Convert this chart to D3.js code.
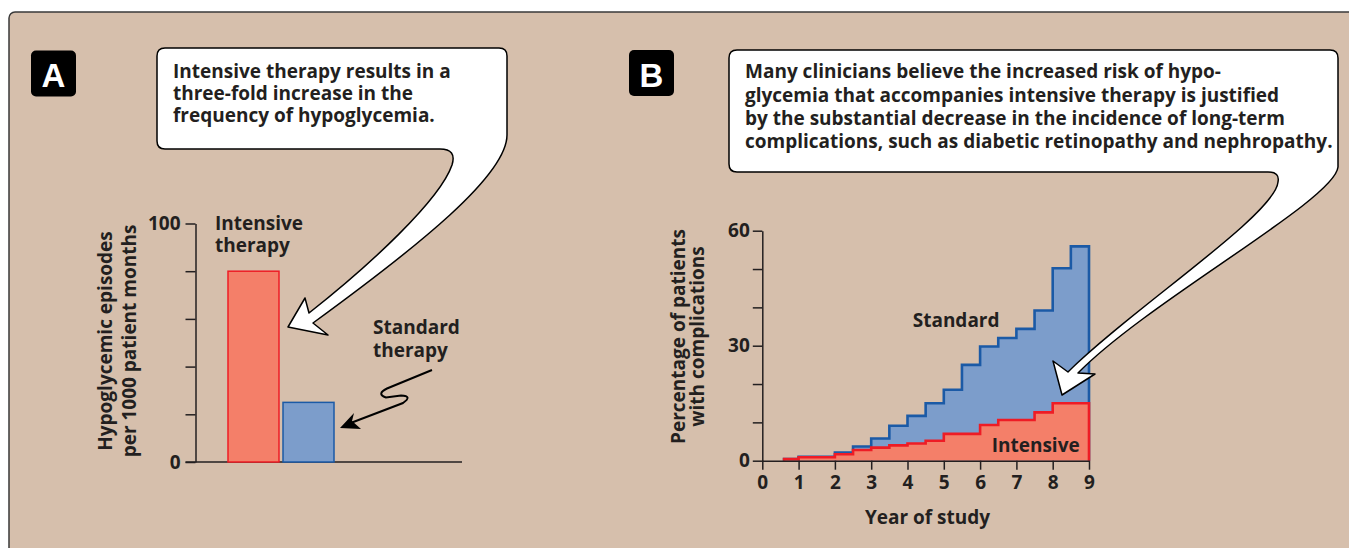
<!DOCTYPE html>
<html><head><meta charset="utf-8">
<script src="https://cdn.jsdelivr.net/npm/d3@7"></script>
<style>
body{margin:0;background:#fff}
svg{display:block}
text{font-family:"Open Sans",Lato,sans-serif;font-weight:700;fill:#231f20}
</style>
</head><body>
<svg id="c" width="1349" height="548"></svg>
<script>
// ---- Panel A data ----
const barCategories = ["Intensive therapy", "Standard therapy"];
const barValues = [80, 25];
const barTicks = [0, 20, 40, 60, 80, 100];
const barTickLabels = ["0", "", "", "", "", "100"];
const barTitleLines = ["Hypoglycemic episodes", "per 1000 patient months"];
const calloutA = ["Intensive therapy results in a", "three-fold increase in the", "frequency of hypoglycemia."];

// ---- Panel B data ----
const years = [0.6, 1, 1.5, 2, 2.5, 3, 3.5, 4, 4.5, 5, 5.5, 6, 6.5, 7, 7.5, 8, 8.5];
const standardValues = [0.4, 1.0, 1.0, 2.1, 3.7, 5.8, 9.1, 11.7, 15.0, 18.5, 25.0, 29.8, 32.0, 34.4, 39.2, 50.2, 55.9];
const intensiveValues = [0.4, 0.9, 0.9, 1.7, 2.8, 3.4, 4.0, 4.5, 5.2, 7.0, 7.0, 9.3, 10.6, 10.6, 12.6, 15.0, 15.0];
const yearEnd = 9;
const yearTicks = [0, 1, 2, 3, 4, 5, 6, 7, 8, 9];
const pctTicks = [0, 10, 20, 30, 40, 50, 60];
const pctTickLabels = ["0", "", "", "30", "", "", "60"];
const pctTitleLines = ["Percentage of patients", "with complications"];
const calloutB = ["Many clinicians believe the increased risk of hypo-",
  "glycemia that accompanies intensive therapy is justified",
  "by the substantial decrease in the incidence of long-term",
  "complications, such as diabetic retinopathy and nephropathy."];

const INK = "#231f20";
const RED_FILL = "#f47f69", RED_LINE = "#ee1c25";
const BLUE_FILL = "#7c9dcb", BLUE_LINE = "#1b5aa6";
const FS = "19px";

const svg = d3.select("#c");

// background panel
svg.append("rect").attr("x", 9).attr("y", 12).attr("width", 1400).attr("height", 600)
  .attr("rx", 6).attr("fill", "#d6bfac").attr("stroke", "#3a3a3a").attr("stroke-width", 1.5);

// badges
function badge(x, y, letter) {
  svg.append("rect").attr("x", x).attr("y", y).attr("width", 45).attr("height", 46).attr("rx", 5).attr("fill", "#000");
  svg.append("text").attr("x", x + 22.5).attr("y", y + 36.5).attr("text-anchor", "middle")
    .style("font-family", "'Liberation Sans', Arial, sans-serif").style("font-size", "33px").style("fill", "#fff").text(letter);
}
badge(31, 50.5, "A");
badge(629, 50, "B");

// ================= Panel A =================
const yA = d3.scaleLinear().domain([0, 100]).range([462, 223.5]);
const xA = d3.scaleBand().domain(barCategories).range([228, 334]).paddingInner(0.073).paddingOuter(0);

const axA = svg.append("g").attr("transform", "translate(195.5,0)")
  .call(d3.axisLeft(yA).tickValues(barTicks).tickSize(10).tickSizeOuter(0).tickPadding(5)
    .tickFormat((d, i) => barTickLabels[i]));
axA.select(".domain").attr("stroke", INK).attr("stroke-width", 1.5);
axA.selectAll(".tick line").attr("stroke", INK).attr("stroke-width", 1.5);
axA.selectAll(".tick text").style("font-size", FS).attr("fill", INK).attr("font-family", null);

svg.append("line").attr("x1", 185.5).attr("x2", 462).attr("y1", yA(0)).attr("y2", yA(0))
  .attr("stroke", INK).attr("stroke-width", 1.5);

svg.selectAll(".barA").data(barValues).enter().append("rect")
  .attr("x", (d, i) => xA(barCategories[i])).attr("width", xA.bandwidth())
  .attr("y", d => yA(d)).attr("height", d => yA(0) - yA(d))
  .attr("fill", (d, i) => i === 0 ? RED_FILL : BLUE_FILL)
  .attr("stroke", (d, i) => i === 0 ? RED_LINE : BLUE_LINE).attr("stroke-width", 1.5);

// y title A
[112, 136].forEach((x, i) => {
  svg.append("text").attr("transform", `translate(${x},341) rotate(-90)`).attr("text-anchor", "middle")
    .style("font-size", FS).text(barTitleLines[i]);
});

// category labels
const catA = [["Intensive", "therapy"], ["Standard", "therapy"]];
svg.append("text").attr("x", 215).attr("y", 230).style("font-size", FS).text(catA[0][0]);
svg.append("text").attr("x", 215).attr("y", 251.5).style("font-size", FS).text(catA[0][1]);
svg.append("text").attr("x", 373).attr("y", 333.5).style("font-size", FS).text(catA[1][0]);
svg.append("text").attr("x", 373).attr("y", 356.5).style("font-size", FS).text(catA[1][1]);

// squiggle arrow
svg.append("path").attr("d", "M432,370 L387,388.5 Q376,394 386,397.5 L401,395.5 Q413,396 403,403 L352,422.5")
  .attr("fill", "none").attr("stroke", "#000").attr("stroke-width", 2);
svg.append("path").attr("d", "M340,428 L354,413 L352,421 L361,429 Z").attr("fill", "#000");

// ================= Panel B =================
const xB = d3.scaleLinear().domain([0, 9]).range([762.3, 1089]);
const yB = d3.scaleLinear().domain([0, 60]).range([460.7, 230.7]);

const area = d3.area().x(d => xB(d[0])).y0(yB(0)).y1(d => yB(d[1])).curve(d3.curveStepAfter);
const line = d3.line().x(d => xB(d[0])).y(d => yB(d[1])).curve(d3.curveStepAfter);

function series(vals, fill, stroke) {
  const pts = years.map((x, i) => [x, vals[i]]);
  pts.push([yearEnd, vals[vals.length - 1]]);
  svg.append("path").attr("d", area(pts)).attr("fill", fill);
  const lp = [[years[0], 0]].concat(pts).concat([[yearEnd, 0]]);
  svg.append("path").attr("d", line(lp)).attr("fill", "none").attr("stroke", stroke)
    .attr("stroke-width", 2.6).attr("stroke-linejoin", "miter");
}
series(standardValues, BLUE_FILL, BLUE_LINE);
series(intensiveValues, RED_FILL, RED_LINE);

const axBy = svg.append("g").attr("transform", `translate(${xB(0)},0)`)
  .call(d3.axisLeft(yB).tickValues(pctTicks).tickSize(9.5).tickSizeOuter(0).tickPadding(3)
    .tickFormat((d, i) => pctTickLabels[i]));
const axBx = svg.append("g").attr("transform", `translate(0,${yB(0)})`)
  .call(d3.axisBottom(xB).tickValues(yearTicks).tickSize(9).tickSizeOuter(0).tickPadding(6)
    .tickFormat(d3.format("d")));
[axBy, axBx].forEach(g => {
  g.select(".domain").attr("stroke", INK).attr("stroke-width", 1.5);
  g.selectAll(".tick line").attr("stroke", INK).attr("stroke-width", 1.5);
  g.selectAll(".tick text").style("font-size", FS).attr("fill", INK).attr("font-family", null);
});

[685, 704].forEach((x, i) => {
  svg.append("text").attr("transform", `translate(${x},336.5) rotate(-90)`).attr("text-anchor", "middle")
    .style("font-size", FS).text(pctTitleLines[i]);
});
svg.append("text").attr("x", 927.5).attr("y", 523.5).attr("text-anchor", "middle").style("font-size", FS).text("Year of study");
svg.append("text").attr("x", 912.7).attr("y", 327).style("font-size", FS).text("Standard");
svg.append("text").attr("x", 991.7).attr("y", 452).style("font-size", FS).text("Intensive");

// ================= Callouts =================
svg.append("path").attr("d",
  "M165,48 L499,48 Q507,48 507,56 L507,135 C507,175 420,245 313,323 L328,335 L288,327 L305,298 L309,313 " +
  "C370,265 440,200 452,165 Q457,149 440,149 L165,149 Q157,149 157,141 L157,56 Q157,48 165,48 Z")
  .attr("fill", "#fff").attr("stroke", "#000").attr("stroke-width", 1.5).attr("stroke-linejoin", "round");
calloutA.forEach((t, i) => {
  svg.append("text").attr("x", 173).attr("y", 77.5 + i * 22).style("font-size", FS).text(t);
});

svg.append("path").attr("d",
  "M737,50 L1330,50 Q1338,50 1338,58 L1338,167 C1335,200 1150,300 1078,373 L1095,374 L1062,395 L1053,361 L1068,372 " +
  "C1130,310 1275,215 1278,182 Q1280,172 1268,172 L737,172 Q729,172 729,164 L729,58 Q729,50 737,50 Z")
  .attr("fill", "#fff").attr("stroke", "#000").attr("stroke-width", 1.5).attr("stroke-linejoin", "round");
calloutB.forEach((t, i) => {
  svg.append("text").attr("x", 745).attr("y", 78.3 + i * 23.3).style("font-size", FS).text(t);
});
</script>
</body></html>
